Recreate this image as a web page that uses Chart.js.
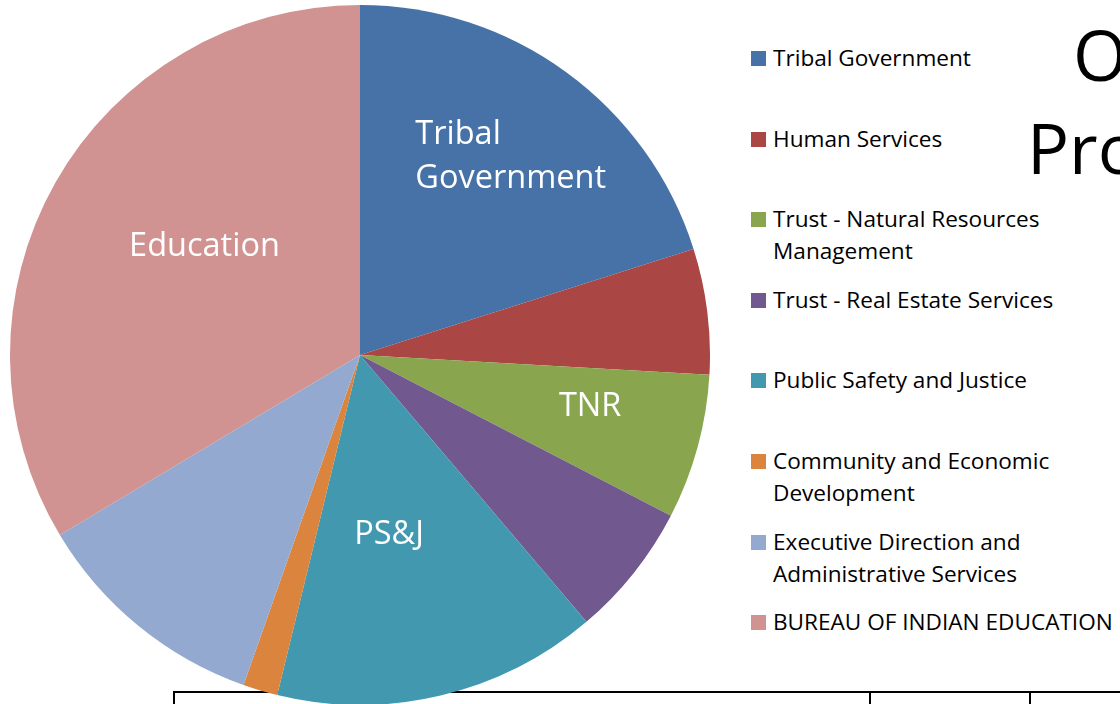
<!DOCTYPE html>
<html>
<head>
<meta charset="utf-8">
<script src="https://cdn.jsdelivr.net/npm/chart.js@4.4.0/dist/chart.umd.min.js"></script>
<style>
    html, body { margin: 0; padding: 0; background: #fff; overflow: hidden; }
    body { width: 1120px; height: 704px; position: relative; font-family: "Open Sans", sans-serif; }
    #wrap { position: absolute; left: 10px; top: 5px; width: 700px; height: 700px; z-index: 2; }
    #legend { position: absolute; left: 751px; top: 0; z-index: 3; }
    .item { position: absolute; left: 0; width: 400px; font-size: 22.6px; line-height: 32px; color: #000; white-space: nowrap; }
    .item span.box { position: absolute; left: 0; top: 9px; width: 15px; height: 15px; }
    .item div { margin-left: 22px; }
    .title { position: absolute; font-size: 70px; line-height: 70px; color: #000; white-space: nowrap; z-index: 1; }
    .hline { position: absolute; left: 173px; top: 691px; width: 960px; height: 2px; background: #000; z-index: 1; }
    .vline { position: absolute; top: 691px; width: 2px; height: 20px; background: #000; z-index: 1; }
</style>
</head>
<body>
<div class="title" style="left:1073px; top:19px;">Overview</div>
<div class="title" style="left:1027px; top:112px;">Programs</div>
<div class="hline"></div>
<div class="vline" style="left:173px;"></div>
<div class="vline" style="left:869px;"></div>
<div class="vline" style="left:1029px;"></div>
<div id="wrap"><canvas id="pieChart"></canvas></div>
<div id="legend"></div>
<script>
// Data (share of total, %)
const programs = [
    'Tribal Government',
    'Human Services',
    'Trust - Natural Resources Management',
    'Trust - Real Estate Services',
    'Public Safety and Justice',
    'Community and Economic Development',
    'Executive Direction and Administrative Services',
    'BUREAU OF INDIAN EDUCATION'
];
const shares = [20.1, 5.8, 6.7, 6.2, 15.0, 1.6, 11.0, 33.6];
const sliceLabels = [['Tribal', 'Government'], null, ['TNR'], null, ['PS&J'], null, null, ['Education']];
const legendLines = [
    ['Tribal Government'],
    ['Human Services'],
    ['Trust - Natural Resources', 'Management'],
    ['Trust - Real Estate Services'],
    ['Public Safety and Justice'],
    ['Community and Economic', 'Development'],
    ['Executive Direction and', 'Administrative Services'],
    ['BUREAU OF INDIAN EDUCATION']
];
const colors = ['#4672A8', '#AA4643', '#89A54E', '#71588F', '#4198AF', '#DB843D', '#93A9CF', '#D19392'];

// label placement: fraction of radius and pixel nudge
const labelPlace = [
    { r: 0.71, dx: 4, dy: 2 },
    null,
    { r: 0.67, dx: 4, dy: -10 },
    null,
    { r: 0.51, dx: -12, dy: 6 },
    null,
    null,
    { r: 0.55, dx: 12, dy: -13 }
];

// Build the legend
const legend = document.getElementById('legend');
legendLines.forEach(function(lines, i) {
    const item = document.createElement('div');
    item.className = 'item';
    item.style.top = (42 + i * 80.6) + 'px';
    item.innerHTML = '<span class="box" style="background:' + colors[i] + '"></span><div>' + lines.join('<br>') + '</div>';
    legend.appendChild(item);
});

// Plugin to draw labels inside slices (multi-line labels are left aligned as a block)
const sliceText = {
    id: 'sliceText',
    afterDatasetsDraw(chart) {
        const ctx = chart.ctx;
        const meta = chart.getDatasetMeta(0);
        ctx.save();
        ctx.fillStyle = '#fff';
        ctx.font = '32.5px "Open Sans"';
        ctx.textAlign = 'left';
        ctx.textBaseline = 'middle';
        meta.data.forEach(function(arc, i) {
            const lines = sliceLabels[i];
            const place = labelPlace[i];
            if (!lines || !place) return;
            const mid = (arc.startAngle + arc.endAngle) / 2;
            const r = arc.outerRadius * place.r;
            const x = arc.x + Math.cos(mid) * r + place.dx;
            const y = arc.y + Math.sin(mid) * r + place.dy;
            const maxW = Math.max.apply(null, lines.map(t => ctx.measureText(t).width));
            const lh = 44;
            lines.forEach(function(t, j) {
                ctx.fillText(t, x - maxW / 2, y + (j - (lines.length - 1) / 2) * lh);
            });
        });
        ctx.restore();
    }
};

const ctx = document.getElementById('pieChart').getContext('2d');
new Chart(ctx, {
    type: 'pie',
    data: {
        labels: programs,
        datasets: [{
            data: shares,
            backgroundColor: colors,
            borderWidth: 0
        }]
    },
    options: {
        responsive: true,
        maintainAspectRatio: false,
        animation: false,
        layout: { padding: 0 },
        plugins: {
            legend: { display: false },
            tooltip: { enabled: false }
        }
    },
    plugins: [sliceText]
});
</script>
</body>
</html>
